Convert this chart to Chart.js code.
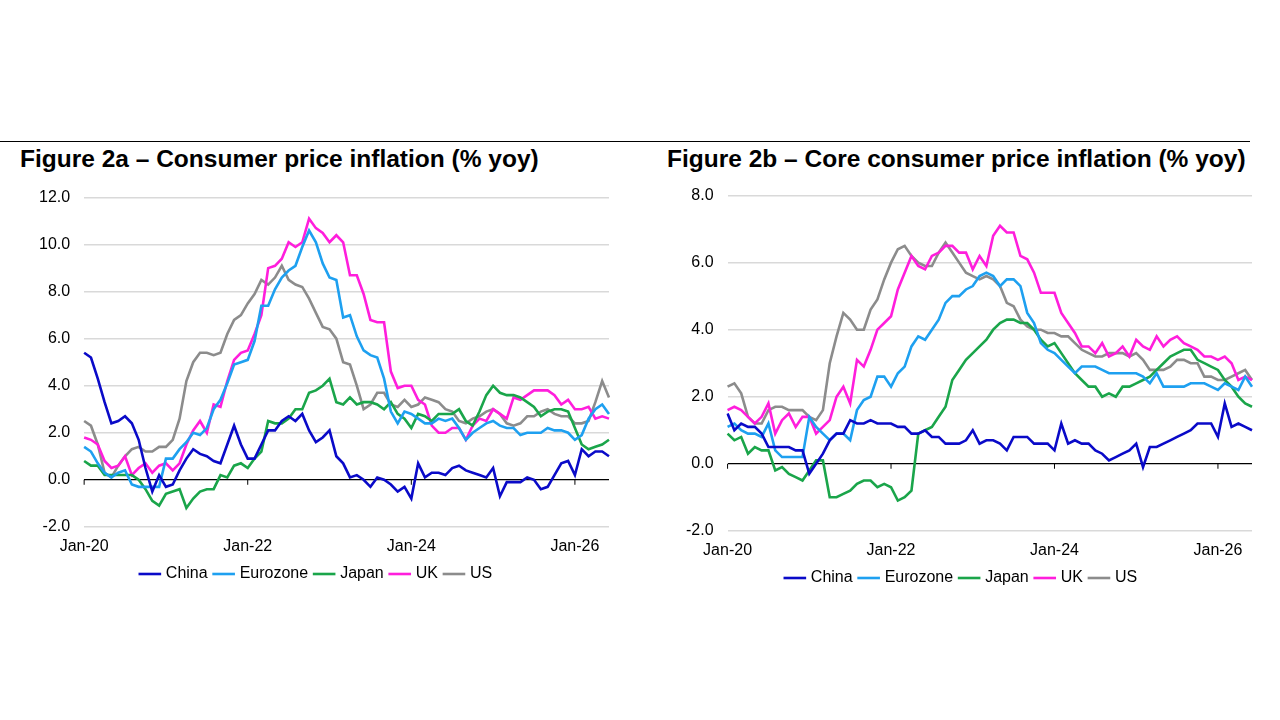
<!DOCTYPE html>
<html>
<head>
<meta charset="utf-8">
<script src="https://cdn.jsdelivr.net/npm/chart.js@4.4.1/dist/chart.umd.min.js"></script>
<style>
  body { margin: 0; width: 1280px; height: 720px; background: #fff; font-family: "Liberation Sans", Arial, sans-serif; position: relative; overflow: hidden; }
  .rule { position: absolute; top: 141px; left: 0; width: 1250px; border-top: 1px solid #000; }
  .title { position: absolute; top: 145px; font-weight: bold; font-size: 24.5px; color: #000; }
  .box { position: absolute; }
</style>
</head>
<body>
<div class="rule"></div>
<div class="title" style="left:20px">Figure 2a – Consumer price inflation (% yoy)</div>
<div class="title" style="left:667px">Figure 2b – Core consumer price inflation (% yoy)</div>
<div class="box" style="left:25px;top:174px;width:586px;height:418px"><canvas id="cpi"></canvas></div>
<div class="box" style="left:672px;top:172px;width:582px;height:424px"><canvas id="core"></canvas></div>
<script>
// months Jan-20 .. Jun-26
var months = [];
var mNames = ['Jan','Feb','Mar','Apr','May','Jun','Jul','Aug','Sep','Oct','Nov','Dec'];
for (var y = 20; y <= 26; y++) {
    for (var m = 0; m < 12; m++) {
        if (y === 26 && m > 5) break;
        months.push(mNames[m] + '-' + y);
    }
}

var seriesNames = ['China', 'Eurozone', 'Japan', 'UK', 'US'];
var seriesColors = ['#0a0ac8', '#1ea0f0', '#1aa54a', '#ff1edc', '#8c8c8c'];

// Figure 2a - headline CPI
var cpiChina = [5.4,5.2,4.3,3.3,2.4,2.5,2.7,2.4,1.7,0.5,-0.5,0.2,
    -0.3,-0.2,0.4,0.9,1.3,1.1,1.0,0.8,0.7,1.5,2.3,1.5,
    0.9,0.9,1.5,2.1,2.1,2.5,2.7,2.5,2.8,2.1,1.6,1.8,
    2.1,1.0,0.7,0.1,0.2,0.0,-0.3,0.1,0.0,-0.2,-0.5,-0.3,
    -0.8,0.7,0.1,0.3,0.3,0.2,0.5,0.6,0.4,0.3,0.2,0.1,
    0.5,-0.7,-0.1,-0.1,-0.1,0.1,0.0,-0.4,-0.3,0.2,0.7,0.8,
    0.2,1.3,1.0,1.2,1.2,1.0];
var cpiEuro = [1.4,1.2,0.7,0.3,0.1,0.3,0.4,-0.2,-0.3,-0.3,-0.3,-0.3,
    0.9,0.9,1.3,1.6,2.0,1.9,2.2,3.0,3.4,4.1,4.9,5.0,
    5.1,5.9,7.4,7.4,8.1,8.6,8.9,9.1,9.9,10.6,10.1,9.2,
    8.6,8.5,6.9,7.0,6.1,5.5,5.3,5.2,4.3,2.9,2.4,2.9,
    2.8,2.6,2.4,2.4,2.6,2.5,2.6,2.2,1.7,2.0,2.2,2.4,
    2.5,2.3,2.2,2.2,1.9,2.0,2.0,2.0,2.2,2.1,2.1,2.0,
    1.7,1.9,2.6,3.0,3.2,2.8];
var cpiJapan = [0.8,0.6,0.6,0.2,0.2,0.2,0.2,0.2,0.0,-0.4,-0.9,-1.1,
    -0.6,-0.5,-0.4,-1.2,-0.8,-0.5,-0.4,-0.4,0.2,0.1,0.6,0.7,
    0.5,0.9,1.2,2.5,2.4,2.4,2.6,3.0,3.0,3.7,3.8,4.0,
    4.3,3.3,3.2,3.5,3.2,3.3,3.3,3.2,3.0,3.3,2.8,2.6,
    2.2,2.8,2.7,2.5,2.8,2.8,2.8,3.0,2.5,2.3,2.9,3.6,
    4.0,3.7,3.6,3.6,3.5,3.3,3.1,2.7,2.9,3.0,3.0,2.9,
    2.2,1.5,1.3,1.4,1.5,1.7];
var cpiUK = [1.8,1.7,1.5,0.8,0.5,0.6,1.0,0.2,0.5,0.7,0.3,0.6,
    0.7,0.4,0.7,1.5,2.1,2.5,2.0,3.2,3.1,4.2,5.1,5.4,
    5.5,6.2,7.0,9.0,9.1,9.4,10.1,9.9,10.1,11.1,10.7,10.5,
    10.1,10.4,10.1,8.7,8.7,7.9,6.8,6.7,6.7,4.6,3.9,4.0,
    4.0,3.4,3.2,2.3,2.0,2.0,2.2,2.2,1.7,2.3,2.6,2.5,
    3.0,2.8,2.6,3.5,3.4,3.6,3.8,3.8,3.8,3.6,3.2,3.4,
    3.0,3.0,3.1,2.6,2.7,2.6];
var cpiUS = [2.5,2.3,1.5,0.3,0.1,0.6,1.0,1.3,1.4,1.2,1.2,1.4,
    1.4,1.7,2.6,4.2,5.0,5.4,5.4,5.3,5.4,6.2,6.8,7.0,
    7.5,7.9,8.5,8.3,8.6,9.1,8.5,8.3,8.2,7.7,7.1,6.5,
    6.4,6.0,5.0,4.9,4.0,3.0,3.2,3.7,3.7,3.2,3.1,3.4,
    3.1,3.2,3.5,3.4,3.3,3.0,2.9,2.5,2.4,2.6,2.7,2.9,
    3.0,2.8,2.4,2.3,2.4,2.7,2.7,2.9,3.0,2.8,2.7,2.7,
    2.4,2.4,2.5,3.3,4.2,3.5];

// Figure 2b - core CPI
var coreChina = [1.5,1.0,1.2,1.1,1.1,0.9,0.5,0.5,0.5,0.5,0.4,0.4,
    -0.3,0.0,0.3,0.7,0.9,0.9,1.3,1.2,1.2,1.3,1.2,1.2,
    1.2,1.1,1.1,0.9,0.9,1.0,0.8,0.8,0.6,0.6,0.6,0.7,
    1.0,0.6,0.7,0.7,0.6,0.4,0.8,0.8,0.8,0.6,0.6,0.6,
    0.4,1.2,0.6,0.7,0.6,0.6,0.4,0.3,0.1,0.2,0.3,0.4,
    0.6,-0.1,0.5,0.5,0.6,0.7,0.8,0.9,1.0,1.2,1.2,1.2,
    0.8,1.8,1.1,1.2,1.1,1.0];
var coreEuro = [1.1,1.2,1.0,0.9,0.9,0.8,1.2,0.4,0.2,0.2,0.2,0.2,
    1.4,1.1,0.9,0.7,0.9,0.9,0.7,1.6,1.9,2.0,2.6,2.6,
    2.3,2.7,2.9,3.5,3.8,3.7,4.0,4.3,4.8,5.0,5.0,5.2,
    5.3,5.6,5.7,5.6,5.3,5.5,5.5,5.3,4.5,4.2,3.6,3.4,
    3.3,3.1,2.9,2.7,2.9,2.9,2.9,2.8,2.7,2.7,2.7,2.7,
    2.7,2.6,2.4,2.7,2.3,2.3,2.3,2.3,2.4,2.4,2.4,2.3,
    2.2,2.4,2.3,2.2,2.6,2.3];
var coreJapan = [0.9,0.7,0.8,0.3,0.5,0.4,0.4,-0.2,-0.1,-0.3,-0.4,-0.5,
    -0.2,0.1,0.1,-1.0,-1.0,-0.9,-0.8,-0.6,-0.5,-0.5,-0.7,-0.6,
    -0.7,-1.1,-1.0,-0.8,0.9,1.0,1.1,1.4,1.7,2.5,2.8,3.1,
    3.3,3.5,3.7,4.0,4.2,4.3,4.3,4.2,4.2,4.0,3.7,3.5,
    3.6,3.3,3.0,2.7,2.5,2.3,2.3,2.0,2.1,2.0,2.3,2.3,
    2.4,2.5,2.6,2.8,3.0,3.2,3.3,3.4,3.4,3.1,3.0,2.9,
    2.8,2.5,2.3,2.0,1.8,1.7];
var coreUK = [1.6,1.7,1.6,1.4,1.2,1.4,1.8,0.9,1.3,1.5,1.1,1.4,
    1.4,0.9,1.1,1.3,2.0,2.3,1.8,3.1,2.9,3.4,4.0,4.2,
    4.4,5.2,5.7,6.2,5.9,5.8,6.2,6.3,6.5,6.5,6.3,6.3,
    5.8,6.2,5.9,6.8,7.1,6.9,6.9,6.2,6.1,5.7,5.1,5.1,
    5.1,4.5,4.2,3.9,3.5,3.5,3.3,3.6,3.2,3.3,3.5,3.2,
    3.7,3.5,3.4,3.8,3.5,3.7,3.8,3.6,3.5,3.4,3.2,3.2,
    3.1,3.2,3.0,2.5,2.6,2.5];
var coreUS = [2.3,2.4,2.1,1.4,1.2,1.2,1.6,1.7,1.7,1.6,1.6,1.6,
    1.4,1.3,1.6,3.0,3.8,4.5,4.3,4.0,4.0,4.6,4.9,5.5,
    6.0,6.4,6.5,6.2,6.0,5.9,5.9,6.3,6.6,6.3,6.0,5.7,
    5.6,5.5,5.6,5.5,5.3,4.8,4.7,4.3,4.1,4.0,4.0,3.9,
    3.9,3.8,3.8,3.6,3.4,3.3,3.2,3.2,3.3,3.3,3.3,3.2,
    3.3,3.1,2.8,2.8,2.8,2.9,3.1,3.1,3.0,3.0,2.6,2.6,
    2.5,2.5,2.6,2.7,2.8,2.5];

// tick marks on the zero line at each January label
var zeroTicks = {
    id: 'zeroTicks',
    afterDraw: function (chart) {
        var x = chart.scales.x, yS = chart.scales.y, c = chart.ctx;
        var y0 = yS.getPixelForValue(0);
        c.save();
        c.strokeStyle = '#000';
        c.lineWidth = 1;
        for (var i = 0; i < months.length; i += 24) {
            var px = x.getPixelForValue(i);
            c.beginPath(); c.moveTo(px, y0); c.lineTo(px, y0 + 5); c.stroke();
        }
        c.restore();
    }
};

function makeChart(id, arrays, ymin, ymax) {
    var ds = [];
    for (var i = 0; i < arrays.length; i++) {
        ds.push({
            label: seriesNames[i], data: arrays[i],
            borderColor: seriesColors[i], backgroundColor: seriesColors[i],
            borderWidth: 2.6, pointRadius: 0, tension: 0
        });
    }
    return new Chart(document.getElementById(id), {
        type: 'line',
        data: { labels: months, datasets: ds },
        plugins: [zeroTicks],
        options: {
            responsive: true, maintainAspectRatio: false, animation: false,
            layout: { padding: { left: 0, right: 2, top: 6, bottom: 0 } },
            plugins: {
                tooltip: { enabled: false },
                legend: {
                    position: 'bottom',
                    labels: {
                        color: '#000', font: { size: 16, family: 'Liberation Sans' },
                        usePointStyle: true, pointStyle: 'line', boxWidth: 46, padding: 8
                    }
                }
            },
            scales: {
                x: {
                    grid: { display: false }, border: { display: false },
                    ticks: {
                        autoSkip: false, maxRotation: 0, color: '#000', padding: 2,
                        font: { size: 16, family: 'Liberation Sans' },
                        callback: function (v, i) { return i % 24 === 0 ? months[i] : ''; }
                    }
                },
                y: {
                    min: ymin, max: ymax,
                    border: { display: false },
                    grid: {
                        color: function (ctx) { return ctx.tick && ctx.tick.value === 0 ? '#000' : '#d9d9d9'; },
                        lineWidth: function (ctx) { return ctx.tick && ctx.tick.value === 0 ? 1.2 : 1.5; },
                        drawTicks: false
                    },
                    ticks: {
                        stepSize: 2, padding: 14, color: '#000',
                        font: { size: 16, family: 'Liberation Sans' },
                        callback: function (v) { return v.toFixed(1); }
                    }
                }
            }
        }
    });
}

makeChart('cpi', [cpiChina, cpiEuro, cpiJapan, cpiUK, cpiUS], -2, 12);
makeChart('core', [coreChina, coreEuro, coreJapan, coreUK, coreUS], -2, 8);
</script>
</body>
</html>
